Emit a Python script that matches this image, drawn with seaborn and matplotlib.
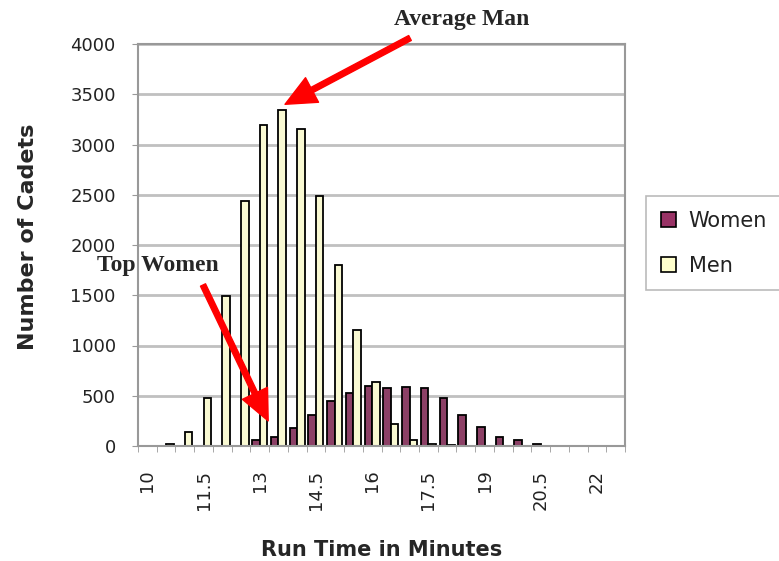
import numpy as np
import pandas as pd
import seaborn as sns
import matplotlib.pyplot as plt
from matplotlib.patches import Patch

# run time bins (minutes) and cadet counts
run_times = ["10", "10.5", "11", "11.5", "12", "12.5", "13", "13.5", "14", "14.5",
             "15", "15.5", "16", "16.5", "17", "17.5", "18", "18.5", "19", "19.5",
             "20", "20.5", "21", "21.5", "22", "22.5"]
women = [0, 0, 0, 0, 0, 0, 60, 90, 180, 310,
         450, 530, 600, 580, 590, 580, 480, 310, 190, 90,
         60, 20, 0, 0, 0, 0]
men = [0, 15, 140, 480, 1490, 2440, 3190, 3340, 3150, 2490,
       1800, 1150, 640, 220, 60, 20, 10, 0, 0, 0,
       0, 0, 0, 0, 0, 0]
shown_labels = ["10", "11.5", "13", "14.5", "16", "17.5", "19", "20.5", "22"]
groups = ["Women", "Men"]

clrs = {"Women": "#993366", "Men": "#FFFFCC"}

df = pd.DataFrame({
    "time": run_times * 2,
    "cadets": women + men,
    "group": ["Women"] * len(run_times) + ["Men"] * len(run_times),
})

sns.set_style("white")
plt.rcParams["font.family"] = ["DejaVu Sans"]

W, H = 779, 561
fig = plt.figure(figsize=(W / 100, H / 100), dpi=100)
ax = fig.add_axes([138 / W, 1 - 446 / H, 487 / W, 402 / H])

sns.barplot(data=df, x="time", y="cadets", hue="group", order=run_times,
            hue_order=groups, palette=clrs, edgecolor="black", linewidth=1.3,
            width=0.8, ax=ax, legend=False)

ax.set_ylim(0, 4000)
ax.set_xlim(-0.5, len(run_times) - 0.5)
ax.set_yticks(range(0, 4001, 500))
ax.yaxis.grid(True, color="#c0c0c0", lw=2)
ax.set_axisbelow(True)

pos = [run_times.index(l) for l in shown_labels]
ax.set_xticks(pos)
ax.set_xticklabels(shown_labels, rotation=90)
ax.set_xticks(np.arange(-0.5, len(run_times)), minor=True)
ax.tick_params(axis="x", which="major", length=0, pad=17, labelsize=13, labelcolor="#222222")
ax.tick_params(axis="x", which="minor", length=4, color="#999999", bottom=True)
ax.tick_params(axis="y", length=4, color="#999999", left=True, labelsize=13,
               pad=12, labelcolor="#222222")

for s in ax.spines.values():
    s.set_color("#999999")
    s.set_linewidth(1.5)

ax.set_xlabel("Run Time in Minutes", fontsize=15, fontweight="bold")
ax.set_ylabel("Number of Cadets", fontsize=16, fontweight="bold")
ax.xaxis.set_label_coords(0.5, -0.235)
ax.yaxis.set_label_coords(-0.205, 0.52)

# legend sits outside on the right, clipped by the figure edge like the original
handles = [Patch(facecolor=clrs[g], edgecolor="black", linewidth=1.2) for g in groups]
leg = fig.legend(handles, groups, loc="upper left",
                 bbox_to_anchor=(646 / W, 1 - 196 / H), bbox_transform=fig.transFigure,
                 fontsize=15, frameon=True, fancybox=False, handlelength=0.75,
                 handleheight=0.75, labelspacing=1.2, borderpad=0.7,
                 handletextpad=0.6, borderaxespad=0)
leg.get_frame().set_edgecolor("#aaaaaa")
leg.get_frame().set_linewidth(1.2)
for t in leg.get_texts():
    t.set_color("#222222")

# callouts
serif = ["Liberation Serif", "DejaVu Serif"]
arrow = dict(facecolor="red", edgecolor="red", width=4, headwidth=20, headlength=22)
fig.text(462 / W, 1 - 20 / H, "Average Man", ha="center", va="center",
         fontsize=17, fontweight="bold", family=serif)
ax.annotate("", xy=(7.35, 3400), xycoords="data",
            xytext=(410, H - 38), textcoords="figure pixels", arrowprops=arrow)
fig.text(158 / W, 1 - 265 / H, "Top Women", ha="center", va="center",
         fontsize=17, fontweight="bold", family=serif)
ax.annotate("", xy=(6.45, 250), xycoords="data",
            xytext=(203, H - 285), textcoords="figure pixels", arrowprops=arrow)

fig.savefig("out.png", dpi=100)
